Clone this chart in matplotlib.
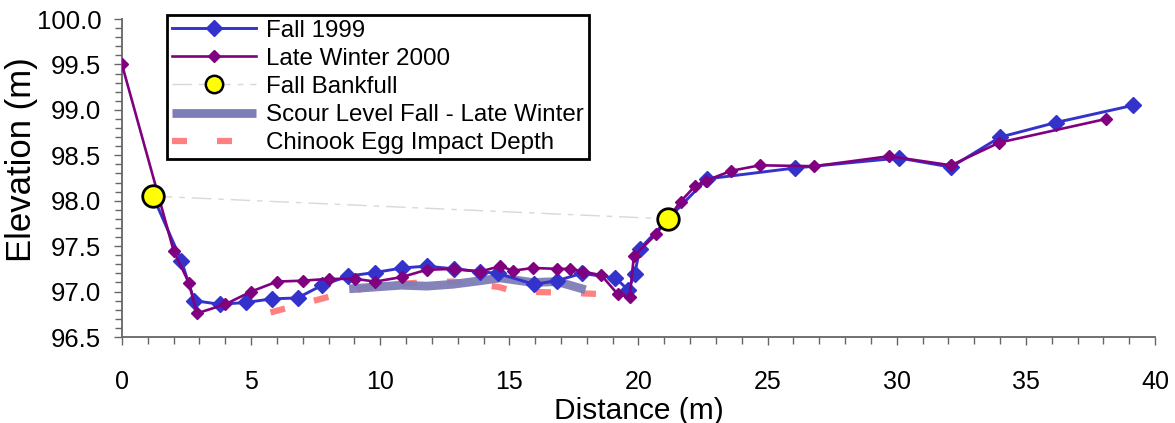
import matplotlib
matplotlib.use("Agg")
import matplotlib.pyplot as plt
from matplotlib.lines import Line2D
from matplotlib.ticker import MultipleLocator, FormatStrFormatter

# ---- data ----
fall_x = [1.2, 2.3, 2.8, 3.8, 4.8, 5.8, 6.8, 7.75, 8.75, 9.8, 10.85, 11.8, 12.85, 13.85, 14.55,
          15.95, 16.85, 17.8, 19.1, 19.6, 19.85, 20.05, 21.15, 22.65, 26.05, 30.1, 32.1, 34.0,
          36.15, 39.15]
fall_y = [98.05, 97.34, 96.90, 96.86, 96.88, 96.92, 96.93, 97.07, 97.17, 97.21, 97.26, 97.28,
          97.25, 97.22, 97.20, 97.08, 97.12, 97.20, 97.15, 97.02, 97.19, 97.47, 97.80, 98.24,
          98.36, 98.47, 98.37, 98.70, 98.86, 99.05]

lw_x = [0, 2.0, 2.6, 2.9, 4.0, 5.0, 6.0, 7.0, 8.0, 9.03, 9.8, 10.84, 11.8, 12.84, 13.87, 14.65,
        15.14, 15.92, 16.85, 17.36, 17.85, 18.56, 19.2, 19.66, 19.82, 20.68, 21.63, 22.18, 22.6,
        23.6, 24.7, 26.8, 29.7, 32.1, 33.97, 38.1]
lw_y = [99.5, 97.45, 97.09, 96.76, 96.86, 97.0, 97.11, 97.12, 97.14, 97.14, 97.11, 97.16, 97.24,
        97.25, 97.22, 97.28, 97.23, 97.26, 97.25, 97.25, 97.22, 97.18, 96.97, 96.94, 97.39, 97.63,
        97.99, 98.16, 98.22, 98.33, 98.39, 98.38, 98.49, 98.39, 98.64, 98.90]

bank_x = [1.2, 21.15]
bank_y = [98.05, 97.80]

scour_x = [8.8, 9.8, 10.8, 11.8, 12.8, 13.9, 14.65, 15.9, 16.85, 17.95]
scour_y = [97.03, 97.05, 97.07, 97.06, 97.08, 97.12, 97.15, 97.10, 97.11, 97.02]

egg_x = [5.75, 8.1, 9.9, 11.6, 12.8, 14.6, 15.2, 16.9, 18.8]
egg_y = [96.77, 96.95, 97.07, 97.10, 97.11, 97.05, 97.00, 96.99, 96.97]

labels = ["Fall 1999", "Late Winter 2000", "Fall Bankfull",
          "Scour Level Fall - Late Winter", "Chinook Egg Impact Depth"]

# ---- style ----
plt.rcParams['font.family'] = ['Liberation Sans', 'DejaVu Sans']
BLUE = '#3333CC'
PURPLE = '#800080'
SCOUR = '#7D7DB8'
EGG = '#FF8080'
AXC = '#666666'
BANK = '#D8D8D8'

fig = plt.figure(figsize=(11.75, 4.23), dpi=100)
ax = fig.add_axes([0.1038, 0.2033, 0.8792, 0.7517])

ax.plot(egg_x, egg_y, color=EGG, lw=4.5, linestyle=(0, (2.4, 4.8)),
        solid_capstyle='butt', dash_capstyle='butt', zorder=2)
ax.plot(scour_x, scour_y, color=SCOUR, lw=6.3, alpha=0.95, solid_capstyle='butt', zorder=2)
ax.plot(bank_x, bank_y, color=BANK, lw=1.0, linestyle=(0, (14, 5, 4, 5)), zorder=2)
ax.plot(fall_x, fall_y, color=BLUE, lw=2.1, marker='D', ms=7.8, mfc=BLUE, mec=BLUE, zorder=3)
ax.plot(lw_x, lw_y, color=PURPLE, lw=1.9, marker='D', ms=6.2, mfc=PURPLE, mec=PURPLE, zorder=4)
ax.plot(bank_x, bank_y, linestyle='none', marker='o', ms=15.5, mfc='#FFFF00', mec='black',
        mew=2.0, zorder=5)

ax.set_xlim(0, 40)
ax.set_ylim(96.5, 100.0)
ax.xaxis.set_major_locator(MultipleLocator(5))
ax.xaxis.set_minor_locator(MultipleLocator(1))
ax.yaxis.set_major_locator(MultipleLocator(0.5))
ax.yaxis.set_minor_locator(MultipleLocator(0.1))
ax.yaxis.set_major_formatter(FormatStrFormatter('%.1f'))

for s in ['top', 'right']:
    ax.spines[s].set_visible(False)
for s in ['left', 'bottom']:
    ax.spines[s].set_color(AXC)
    ax.spines[s].set_linewidth(1.3)
ax.tick_params(which='both', direction='out', color=AXC, width=1.0, labelsize=18.5,
               labelcolor='black')
ax.tick_params(axis='x', labelsize=18)
ax.tick_params(which='major', length=6)
ax.tick_params(which='minor', length=5)
ax.tick_params(axis='x', pad=18)
ax.tick_params(axis='y', pad=9)

ax.set_xlabel("Distance (m)", fontsize=21.5)
ax.set_ylabel("Elevation (m)", fontsize=25)
ax.xaxis.label.set_va('center')
ax.yaxis.label.set_va('center')
ax.xaxis.set_label_coords(0.5, -0.232)
ax.yaxis.set_label_coords(-0.0968, 0.557)

handles = [
    Line2D([], [], color=BLUE, lw=2.1, marker='D', ms=8.0, mfc=BLUE, mec=BLUE),
    Line2D([], [], color=PURPLE, lw=1.9, marker='D', ms=6.0, mfc=PURPLE, mec=PURPLE),
    Line2D([], [], color=BANK, lw=1.0, linestyle=(0, (14, 5, 4, 5)), marker='o', ms=12.5,
           mfc='#FFFF00', mec='black', mew=1.8),
    Line2D([], [], color=SCOUR, lw=6.3, solid_capstyle='butt'),
    Line2D([], [], color=EGG, lw=4.5, linestyle=(0, (2.4, 4.8)), dash_capstyle='butt'),
]
leg = ax.legend(handles, labels, loc='upper left', bbox_to_anchor=(0.0436, 1.0126),
                borderaxespad=0, fontsize=17.4, frameon=True, fancybox=False, framealpha=1,
                edgecolor='black', handlelength=3.5, handletextpad=0.4, labelspacing=0.25,
                borderpad=0.2, numpoints=1)
leg.get_frame().set_linewidth(2.0)
leg.set_zorder(10)

fig.savefig("out.png", dpi=100)
